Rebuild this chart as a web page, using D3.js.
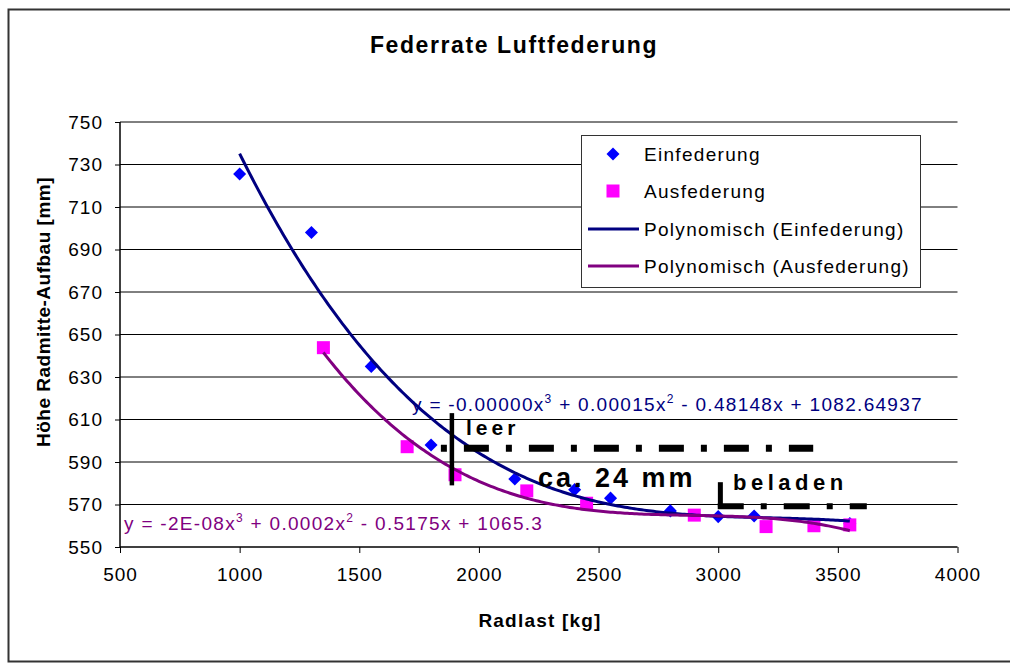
<!DOCTYPE html>
<html>
<head>
<meta charset="utf-8">
<script src="https://cdn.jsdelivr.net/npm/d3@7"></script>
<style>
  body { margin: 0; background: #fff; }
  text { font-family: "Liberation Sans", Arial, sans-serif; }
</style>
</head>
<body>
<svg id="chart" width="1010" height="666"></svg>
<script>
// data
const einLast  = [1000, 1300, 1550, 1800, 2150, 2400, 2550, 2800, 3000, 3150, 3550];
const einHoehe = [725.5, 698, 635, 598, 582, 577, 573, 567, 564.3, 564.6, 561];
const ausLast  = [1350, 1700, 1900, 2200, 2450, 2900, 3200, 3400, 3550];
const ausHoehe = [643.8, 597.2, 584, 576.4, 570.6, 565, 559.6, 560, 560.4];

const xTicks = [500, 1000, 1500, 2000, 2500, 3000, 3500, 4000];
const yTicks = [550, 570, 590, 610, 630, 650, 670, 690, 710, 730, 750];

const legendLabels = ['Einfederung', 'Ausfederung', 'Polynomisch (Einfederung)', 'Polynomisch (Ausfederung)'];
const eqEin = 'y = -0.00000x^3 + 0.00015x^2 - 0.48148x + 1082.64937';
const eqAus = 'y = -2E-08x^3 + 0.0002x^2 - 0.5175x + 1065.3';

const svg = d3.select('#chart');
const plotLeft = 120, plotRight = 957.5, plotTop = 122, plotBottom = 547;

const x = d3.scaleLinear().domain([500, 4000]).range([plotLeft, plotRight]);
const y = d3.scaleLinear().domain([550, 750]).range([plotBottom, plotTop]);

// chart frame
svg.append('rect')
  .attr('x', 8.5).attr('y', 9.5)
  .attr('width', 1010).attr('height', 652)
  .attr('fill', 'none').attr('stroke', '#333').attr('stroke-width', 2);

svg.append('text')
  .attr('x', 514).attr('y', 53)
  .attr('text-anchor', 'middle')
  .attr('font-size', 23).attr('font-weight', 'bold')
  .attr('letter-spacing', 1.6)
  .text('Federrate Luftfederung');

// grid
svg.append('g')
  .selectAll('line')
  .data(yTicks.slice(1))
  .enter()
  .append('line')
  .attr('x1', plotLeft).attr('x2', plotRight)
  .attr('y1', d => y(d)).attr('y2', d => y(d))
  .attr('stroke', '#000').attr('stroke-width', 1);

// axes
const yAxis = svg.append('g')
  .attr('transform', `translate(${plotLeft},0)`)
  .call(d3.axisLeft(y).tickValues(yTicks).tickSize(5).tickPadding(12).tickFormat(d3.format('d')));
const xAxis = svg.append('g')
  .attr('transform', `translate(0,${plotBottom})`)
  .call(d3.axisBottom(x).tickValues(xTicks).tickSize(6).tickPadding(15).tickFormat(d3.format('d')));

[xAxis, yAxis].forEach(a => {
  a.select('.domain').attr('stroke', '#000').attr('stroke-width', 1.5);
  a.selectAll('.tick line').attr('stroke', '#000');
  a.selectAll('.tick text')
    .attr('font-size', 19)
    .attr('letter-spacing', 1)
    .attr('font-family', '"Liberation Sans", Arial, sans-serif')
    .attr('fill', '#000');
});
yAxis.select('.domain').attr('d', `M0,${plotBottom}V${plotTop}`);
xAxis.select('.domain').attr('d', `M${plotLeft},0H${plotRight}`);

svg.append('text')
  .attr('transform', 'translate(50,312) rotate(-90)')
  .attr('text-anchor', 'middle')
  .attr('font-size', 19).attr('font-weight', 'bold')
  .attr('letter-spacing', 0.5)
  .text('Höhe Radmitte-Aufbau [mm]');

svg.append('text')
  .attr('x', 540).attr('y', 627)
  .attr('text-anchor', 'middle')
  .attr('font-size', 19).attr('font-weight', 'bold')
  .attr('letter-spacing', 1.2)
  .text('Radlast [kg]');

// least squares cubic, like the spreadsheet trendline
function cubicFit(xs, ys) {
  const n = 4;
  const A = d3.range(n).map(() => d3.range(n + 1).map(() => 0));
  xs.forEach((xv, i) => {
    const u = xv / 1000;
    for (let r = 0; r < n; r++) {
      for (let c = 0; c < n; c++) A[r][c] += Math.pow(u, r + c);
      A[r][n] += ys[i] * Math.pow(u, r);
    }
  });
  for (let k = 0; k < n; k++) {
    for (let r = k + 1; r < n; r++) {
      const f = A[r][k] / A[k][k];
      for (let c = k; c <= n; c++) A[r][c] -= f * A[k][c];
    }
  }
  const coef = [0, 0, 0, 0];
  for (let r = n - 1; r >= 0; r--) {
    let s = A[r][n];
    for (let c = r + 1; c < n; c++) s -= A[r][c] * coef[c];
    coef[r] = s / A[r][r];
  }
  return xv => {
    const u = xv / 1000;
    return coef[0] + coef[1] * u + coef[2] * u * u + coef[3] * u * u * u;
  };
}

const line = d3.line().x(d => x(d[0])).y(d => y(d[1]));

// markers
const diamond = d3.symbol().type(d3.symbolSquare).size(85);
svg.append('g')
  .selectAll('path')
  .data(einLast.map((d, i) => [d, einHoehe[i]]))
  .enter()
  .append('path')
  .attr('d', diamond)
  .attr('transform', d => `translate(${x(d[0])},${y(d[1])}) rotate(45)`)
  .attr('fill', '#0000ff');

svg.append('g')
  .selectAll('rect')
  .data(ausLast.map((d, i) => [d, ausHoehe[i]]))
  .enter()
  .append('rect')
  .attr('x', d => x(d[0]) - 6.5).attr('y', d => y(d[1]) - 6.5)
  .attr('width', 13).attr('height', 13)
  .attr('fill', '#ff00ff');

// trendlines
const trends = [
  { xs: einLast, ys: einHoehe, color: '#000080' },
  { xs: ausLast, ys: ausHoehe, color: '#800080' }
];
trends.forEach(t => {
  const f = cubicFit(t.xs, t.ys);
  const pts = d3.range(d3.min(t.xs), d3.max(t.xs) + 1, 10).map(v => [v, f(v)]);
  svg.append('path')
    .attr('d', line(pts))
    .attr('fill', 'none')
    .attr('stroke', t.color)
    .attr('stroke-width', 3);
});

// equation labels with superscripts
function equation(str, px, py, color) {
  const t = svg.append('text')
    .attr('x', px).attr('y', py)
    .attr('font-size', 19).attr('letter-spacing', 1.3)
    .attr('fill', color);
  let raised = false;
  str.split(/(\^\d)/).filter(p => p.length).forEach(part => {
    if (part.startsWith('^')) {
      t.append('tspan').attr('dy', -8).attr('font-size', 12).text(part.slice(1));
      raised = true;
    } else {
      t.append('tspan').attr('dy', raised ? 8 : 0).text(part);
      raised = false;
    }
  });
}
equation(eqEin, 412, 411, '#000080');
equation(eqAus, 124, 530, '#800080');

// legend
const lg = svg.append('g');
lg.append('rect')
  .attr('x', 581.5).attr('y', 135.5)
  .attr('width', 339).attr('height', 152)
  .attr('fill', '#fff').attr('stroke', '#333').attr('stroke-width', 1);
const rowY = [154, 191, 229, 266];
lg.append('path')
  .attr('d', diamond)
  .attr('transform', `translate(613,${rowY[0]}) rotate(45)`)
  .attr('fill', '#0000ff');
lg.append('rect')
  .attr('x', 606.5).attr('y', rowY[1] - 6.5)
  .attr('width', 13).attr('height', 13)
  .attr('fill', '#ff00ff');
[['#000080', rowY[2]], ['#800080', rowY[3]]].forEach(([c, ry]) => {
  lg.append('line')
    .attr('x1', 588).attr('x2', 639)
    .attr('y1', ry).attr('y2', ry)
    .attr('stroke', c).attr('stroke-width', 3);
});
lg.selectAll('.lab')
  .data(legendLabels)
  .enter()
  .append('text')
  .attr('x', 644)
  .attr('y', (d, i) => rowY[i] + 7)
  .attr('font-size', 19).attr('letter-spacing', 1.3)
  .text(d => d);

// annotations: leer / beladen
const ann = svg.append('g');
ann.append('line')
  .attr('x1', x(1887)).attr('x2', x(1887))
  .attr('y1', y(613)).attr('y2', y(579))
  .attr('stroke', '#000').attr('stroke-width', 4.5);
ann.append('line')
  .attr('x1', x(1841)).attr('x2', x(3397))
  .attr('y1', y(596.5)).attr('y2', y(596.5))
  .attr('stroke', '#000').attr('stroke-width', 7)
  .attr('stroke-dasharray', '6,17,25,17');
ann.append('line')
  .attr('x1', x(3009)).attr('x2', x(3009))
  .attr('y1', y(580.5)).attr('y2', y(569))
  .attr('stroke', '#000').attr('stroke-width', 5);
ann.append('line')
  .attr('x1', x(2998)).attr('x2', x(3621))
  .attr('y1', y(569.2)).attr('y2', y(569.2))
  .attr('stroke', '#000').attr('stroke-width', 6)
  .attr('stroke-dasharray', '26,17,6,17');

ann.append('text')
  .attr('x', 466).attr('y', 435)
  .attr('font-size', 21).attr('font-weight', 'bold').attr('letter-spacing', 4)
  .text('leer');
ann.append('text')
  .attr('x', 538).attr('y', 487)
  .attr('font-size', 27).attr('font-weight', 'bold').attr('letter-spacing', 3)
  .text('ca. 24 mm');
ann.append('text')
  .attr('x', 733).attr('y', 490)
  .attr('font-size', 22).attr('font-weight', 'bold').attr('letter-spacing', 4.5)
  .text('beladen');
</script>
</body>
</html>
